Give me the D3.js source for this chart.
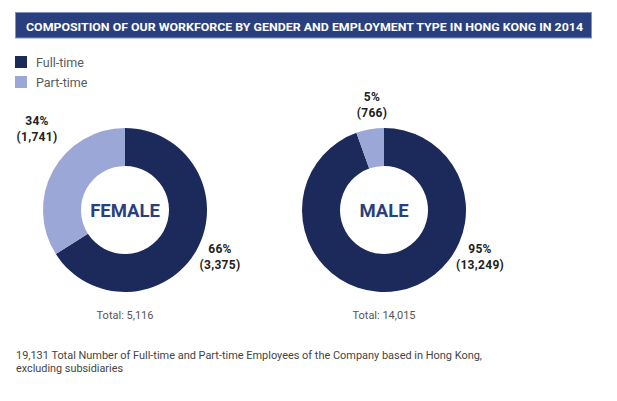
<!DOCTYPE html>
<html>
<head>
<meta charset="utf-8">
<script src="https://cdn.jsdelivr.net/npm/d3@7"></script>
<style>
 body { margin: 0; background: #fff; }
 svg { display: block; font-family: Roboto, "Noto Sans", sans-serif; }
</style>
</head>
<body>
<svg width="617" height="401"></svg>
<script>
// chart data
var genders = ["FEMALE", "MALE"];
var types = ["Full-time", "Part-time"];
var fullTime = [3375, 13249];
var partTime = [1741, 766];
var totals = [5116, 14015];
var grandTotal = 19131;

var title = "COMPOSITION OF OUR WORKFORCE BY GENDER AND EMPLOYMENT TYPE IN HONG KONG IN 2014";
var note = [grandTotal.toLocaleString("en-US") + " Total Number of Full-time and Part-time Employees of the Company based in Hong Kong,",
 "excluding subsidiaries"];
var noteWidths = [466, 107];

var dark = "#1c2a5b", light = "#9ba7d7", barBlue = "#2a3f7e";

var svg = d3.select("svg");
var fmt = d3.format(",");

// title bar
svg.append("rect")
 .attr("x", 15.5).attr("y", 12.5)
 .attr("width", 576).attr("height", 25.5)
 .attr("fill", barBlue)
 .attr("stroke", "#8391c6").attr("stroke-width", 1);

svg.append("text")
 .text(title)
 .attr("x", 26).attr("y", 30.5)
 .attr("fill", "#fff")
 .attr("font-size", "11px")
 .attr("font-weight", "bold")
 .attr("textLength", 557)
 .attr("lengthAdjust", "spacingAndGlyphs");

// legend
var color = d3.scaleOrdinal().domain(types).range([dark, light]);
var legendY = d3.scalePoint().domain(types).range([56, 76]);

var lg = svg.selectAll(".legend")
 .data(types)
 .enter()
 .append("g")
 .attr("class", "legend")
 .attr("transform", function(d) { return "translate(15," + legendY(d) + ")"; });

lg.append("rect")
 .attr("width", 12).attr("height", 12)
 .attr("fill", function(d) { return color(d); });

lg.append("text")
 .text(function(d) { return d; })
 .attr("x", 21).attr("y", 10.5)
 .attr("font-size", "12.5px")
 .attr("fill", "#5a5a5a");

// donuts
var cx = d3.scalePoint().domain(genders).range([125, 384]);
var cy = 210;
var outerR = 82, innerR = 44;

var pie = d3.pie().sort(null).value(function(d) { return d.value; });
var arc = d3.arc().innerRadius(innerR).outerRadius(outerR);

// label anchor offsets from each donut centre, [full-time, part-time]
var labelOffsets = {
 FEMALE: [[95, 43], [-88, -85]],
 MALE: [[96, 43], [-12, -109]]
};

genders.forEach(function(g, i) {
 var slices = [
  { type: types[0], value: fullTime[i] },
  { type: types[1], value: partTime[i] }
 ];
 var total = totals[i];

 var grp = svg.append("g")
  .attr("transform", "translate(" + cx(g) + "," + cy + ")");

 grp.selectAll("path")
  .data(pie(slices))
  .enter()
  .append("path")
  .attr("d", arc)
  .attr("fill", function(d) { return color(d.data.type); });

 grp.append("text")
  .text(g)
  .attr("text-anchor", "middle")
  .attr("y", 7)
  .attr("font-size", "18.5px")
  .attr("font-weight", "bold")
  .attr("fill", barBlue);

 slices.forEach(function(s, j) {
  var off = labelOffsets[g][j];
  var t = grp.append("text")
   .attr("text-anchor", "middle")
   .attr("font-size", "12px")
   .attr("font-weight", "bold")
   .attr("fill", "#222")
   .attr("letter-spacing", "0.3px");
  t.append("tspan")
   .attr("x", off[0]).attr("y", off[1])
   .text(Math.round(s.value / total * 100) + "%");
  t.append("tspan")
   .attr("x", off[0]).attr("y", off[1] + 16)
   .text("(" + fmt(s.value) + ")");
 });

 grp.append("text")
  .text("Total: " + fmt(total))
  .attr("text-anchor", "middle")
  .attr("y", 109)
  .attr("font-size", "11px")
  .attr("fill", "#555");
});

// footnote
svg.selectAll(".note")
 .data(note)
 .enter()
 .append("text")
 .attr("class", "note")
 .text(function(d) { return d; })
 .attr("x", 16)
 .attr("y", function(d, i) { return 359 + i * 13; })
 .attr("font-size", "11.5px")
 .attr("fill", "#444")
 .attr("textLength", function(d, i) { return noteWidths[i]; })
 .attr("lengthAdjust", "spacingAndGlyphs");
</script>
</body>
</html>
